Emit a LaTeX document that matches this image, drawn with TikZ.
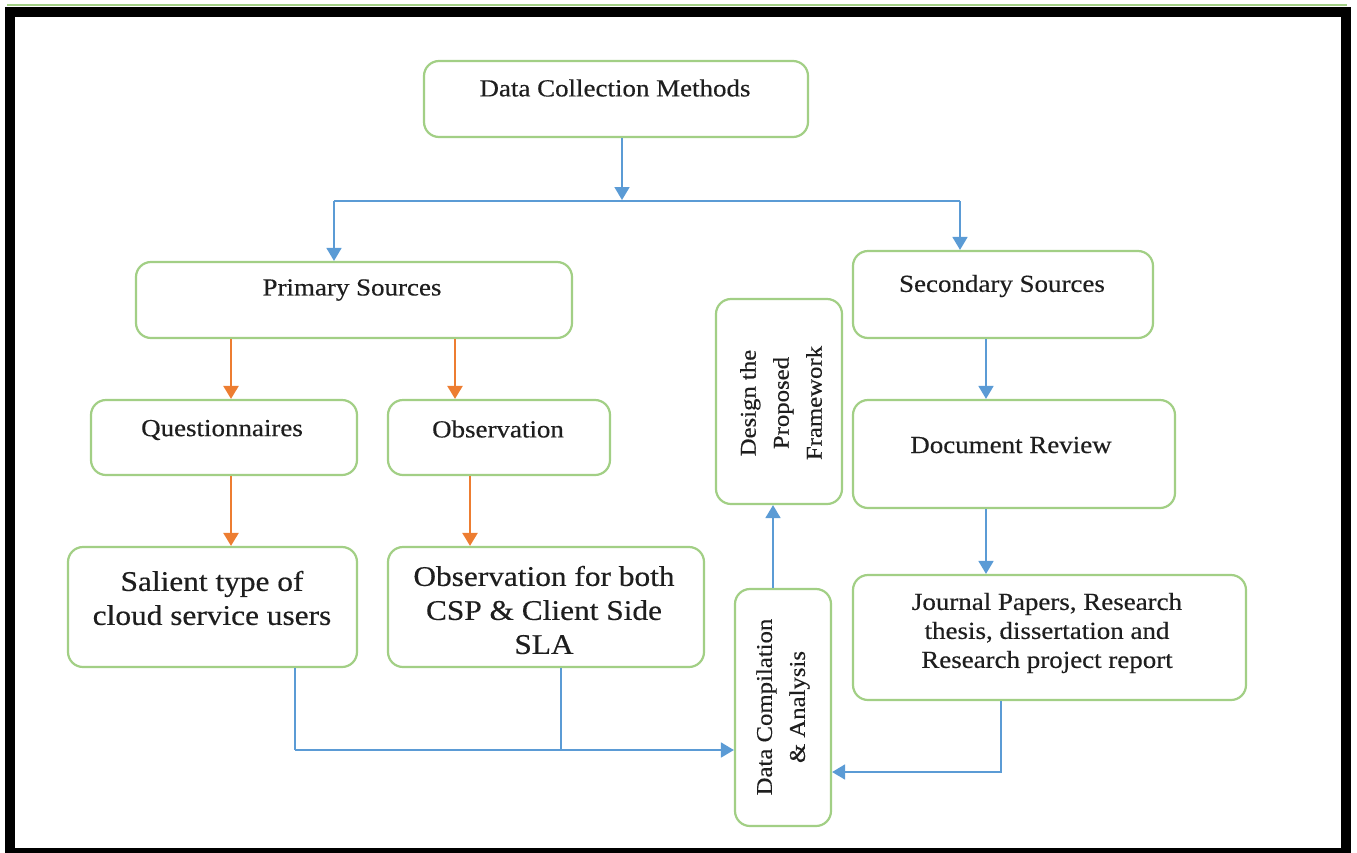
\documentclass[tikz,border=0pt]{standalone}
\usepackage{fontspec}
\setmainfont{Liberation Serif}[FakeStretch=1.1, FakeBold=0.4]
\usetikzlibrary{arrows.meta}

\definecolor{boxgreen}{HTML}{A2CF85}
\definecolor{linkblue}{HTML}{5B9BD5}
\definecolor{linkorange}{HTML}{ED7D31}
\definecolor{inktext}{HTML}{1E1E1E}

\tikzset{
  stepbox/.style={draw=boxgreen, line width=2.2pt, rounded corners=15pt, fill=white, inner sep=0pt},
  txt/.style={text=inktext, align=center, inner sep=0pt, font=\fontsize{24.5}{29}\selectfont},
  bigtxt/.style={txt, font=\fontsize{28.5}{34}\selectfont},
  sidetxt/.style={txt, rotate=90, font=\fontsize{22.5}{33}\selectfont},
  bluelink/.style={draw=linkblue, line width=1.8pt, -{Triangle[width=15pt,length=13pt]}},
  blueline/.style={draw=linkblue, line width=1.8pt},
  orangelink/.style={draw=linkorange, line width=2.4pt, -{Triangle[width=15pt,length=13pt]}},
}

\begin{document}
\begin{tikzpicture}[x=1pt, y=-1pt]
\useasboundingbox (0,0) rectangle (1357,852);
\clip (0,0) rectangle (1357,852);

% page frame
\draw[boxgreen, line width=2pt] (7,5) -- (1347,5);
\draw[black, line width=10pt] (10,12) rectangle (1346,853);

% boxes
\node[stepbox, minimum width=384pt, minimum height=76pt] (dcm) at (616,99) {};
\node[stepbox, minimum width=436pt, minimum height=76pt] (prim) at (354,300) {};
\node[stepbox, minimum width=300pt, minimum height=87pt] (sec) at (1003,294.5) {};
\node[stepbox, minimum width=266pt, minimum height=75pt] (ques) at (224,437.5) {};
\node[stepbox, minimum width=222pt, minimum height=75pt] (obs) at (499,437.5) {};
\node[stepbox, minimum width=126pt, minimum height=205pt] (design) at (779,401.5) {};
\node[stepbox, minimum width=322pt, minimum height=108pt] (docrev) at (1014,454) {};
\node[stepbox, minimum width=289pt, minimum height=120pt] (sal) at (212.5,607) {};
\node[stepbox, minimum width=316pt, minimum height=120pt] (obsb) at (546,607) {};
\node[stepbox, minimum width=96pt, minimum height=237pt] (dca) at (783,707.5) {};
\node[stepbox, minimum width=393pt, minimum height=125pt] (jour) at (1049.5,637.5) {};

% labels
\node[txt] (dcm-t) at (615,88) {Data Collection Methods};
\node[txt] (prim-t) at (352,290) {Primary Sources};
\node[txt] (sec-t) at (1002,286) {Secondary Sources};
\node[txt] (ques-t) at (222,430) {Questionnaires};
\node[txt] (obs-t) at (498,429) {Observation};
\node[txt] (docrev-t) at (1011,445) {Document Review};
\node[bigtxt] (sal-t) at (212,598) {Salient type of\\cloud service users};
\node[bigtxt] (obsb-t) at (544,610) {Observation for both\\CSP \& Client Side\\SLA};
\node[txt] (jour-t) at (1047,633) {Journal Papers, Research\\thesis, dissertation and\\Research project report};
\node[sidetxt] (design-t) at (781,403) {Design the\\Proposed\\Framework};
\node[sidetxt] (dca-t) at (783,707) {Data Compilation\\\& Analysis};

% connector positions
\coordinate (xm) at (622,0);
\coordinate (busL) at (334,201);
\coordinate (busR) at (960,201);
\coordinate (busJ) at (622,200);
\coordinate (xq) at (231,0);
\coordinate (xo) at (455,0);
\coordinate (xob) at (470,0);
\coordinate (xs) at (986,0);
\coordinate (xd) at (773,0);
\coordinate (xj) at (1001,772);
\coordinate (xsal) at (295,750);
\coordinate (xobb) at (561,750);

% top split
\draw[bluelink] (xm |- dcm.south) -- (busJ);
\draw[blueline] (busL) -- (busR);
\draw[bluelink] (busL) -- (busL |- prim.north);
\draw[bluelink] (busR) -- (busR |- sec.north);

% primary branch
\draw[orangelink] (xq |- prim.south) -- (xq |- ques.north);
\draw[orangelink] (xo |- prim.south) -- (xo |- obs.north);
\draw[orangelink] (xq |- ques.south) -- (xq |- sal.north);
\draw[orangelink] (xob |- obs.south) -- (xob |- obsb.north);

% secondary branch
\draw[bluelink] (xs |- sec.south) -- (xs |- docrev.north);
\draw[bluelink] (xs |- docrev.south) -- (xs |- jour.north);

% compilation
\draw[blueline] (xsal |- sal.south) -- (xsal);
\draw[blueline] (xobb |- obsb.south) -- (xobb);
\draw[bluelink] (xsal) -- (xsal -| dca.west);
\draw[bluelink] (xj |- jour.south) -- (xj) -- (xj -| dca.east);
\draw[bluelink] (xd |- dca.north) -- (xd |- design.south);
\end{tikzpicture}
\end{document}
